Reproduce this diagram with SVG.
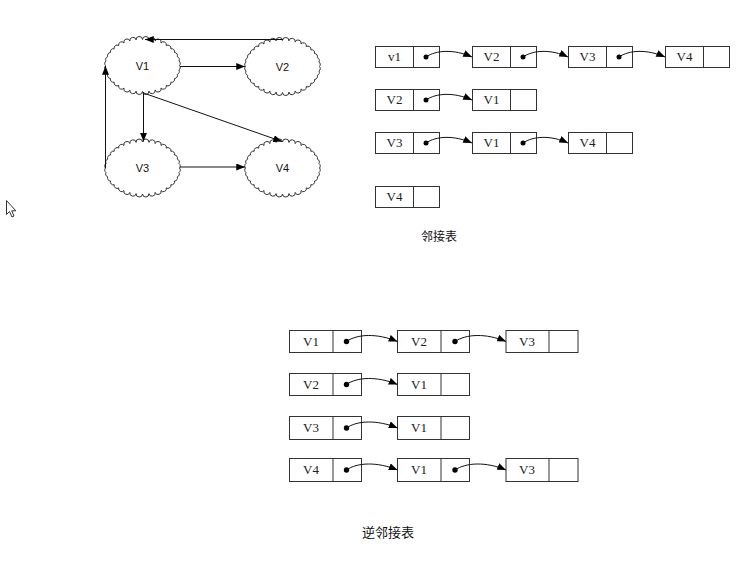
<svg xmlns="http://www.w3.org/2000/svg" xmlns:xlink="http://www.w3.org/1999/xlink" width="756" height="568" viewBox="0 0 756 568">
<style>
.cloud{fill:#fff;stroke:#333;stroke-width:1}
.gl{font-family:"Liberation Sans",Arial,sans-serif;font-size:11px;fill:#111;text-anchor:middle}
.box{fill:#fff;stroke:#333;stroke-width:1}
.lt{font-family:"Liberation Serif","Times New Roman",serif;font-size:13px;fill:#222;text-anchor:middle}
.edge{fill:none;stroke:#111;stroke-width:1}
.dot{fill:#000}
.cap{font-family:"Noto Sans CJK SC","Noto Sans CJK JP",sans-serif;fill:#111;text-anchor:middle}
</style>
<defs>
<marker id="ah" viewBox="0 0 10 8" refX="10" refY="4" markerWidth="9" markerHeight="7" markerUnits="userSpaceOnUse" orient="auto">
<path d="M0,0 L10,4 L0,8 z" fill="#000"/>
</marker>
<path id="cl" class="cloud" d="M37,0 A3 3 0 0 1 36.44,4.51 A3 3 0 0 1 34.77,8.89 A3 3 0 0 1 32.04,13 A3 3 0 0 1 28.34,16.71 A3 3 0 0 1 23.78,19.92 A3 3 0 0 1 18.5,22.52 A3 3 0 0 1 12.65,24.43 A3 3 0 0 1 6.42,25.6 A3 3 0 0 1 0,26 A3 3 0 0 1 -6.42,25.6 A3 3 0 0 1 -12.65,24.43 A3 3 0 0 1 -18.5,22.52 A3 3 0 0 1 -23.78,19.92 A3 3 0 0 1 -28.34,16.71 A3 3 0 0 1 -32.04,13 A3 3 0 0 1 -34.77,8.89 A3 3 0 0 1 -36.44,4.51 A3 3 0 0 1 -37,0 A3 3 0 0 1 -36.44,-4.51 A3 3 0 0 1 -34.77,-8.89 A3 3 0 0 1 -32.04,-13 A3 3 0 0 1 -28.34,-16.71 A3 3 0 0 1 -23.78,-19.92 A3 3 0 0 1 -18.5,-22.52 A3 3 0 0 1 -12.65,-24.43 A3 3 0 0 1 -6.42,-25.6 A3 3 0 0 1 0,-26 A3 3 0 0 1 6.42,-25.6 A3 3 0 0 1 12.65,-24.43 A3 3 0 0 1 18.5,-22.52 A3 3 0 0 1 23.78,-19.92 A3 3 0 0 1 28.34,-16.71 A3 3 0 0 1 32.04,-13 A3 3 0 0 1 34.77,-8.89 A3 3 0 0 1 36.44,-4.51 A3 3 0 0 1 37,0 Z"/>
</defs>
<rect width="756" height="568" fill="#fff"/>

<!-- graph nodes -->
<g id="g-v1"><use xlink:href="#cl" x="142.5" y="65.5"/><text class="gl" x="142.5" y="70">V1</text></g>
<g id="g-v2"><use xlink:href="#cl" x="282.5" y="66.5"/><text class="gl" x="282.5" y="71">V2</text></g>
<g id="g-v3"><use xlink:href="#cl" x="142.5" y="168"/><text class="gl" x="142.5" y="172">V3</text></g>
<g id="g-v4"><use xlink:href="#cl" x="282.5" y="168"/><text class="gl" x="282.5" y="172">V4</text></g>

<!-- graph connectors -->
<g id="graph-edges" class="edge" marker-end="url(#ah)">
<path d="M283,39.5 L145,39.5"/>
<path d="M180,66.5 L245,66.5"/>
<path d="M143.5,92 L143.5,141.5"/>
<path d="M143.5,93 L282,141.5"/>
<path d="M105.5,168 L105.5,66"/>
<path d="M180,167 L245,167"/>
</g>

<!-- adjacency list -->
<g id="a-r1-v1"><rect class="box" x="375.5" y="46.5" width="64" height="21"/><line class="box" x1="413.5" y1="46.5" x2="413.5" y2="67.5"/><text class="lt" x="394.5" y="61">v1</text><circle class="dot" cx="426" cy="57" r="2.5"/></g>
<g id="a-r1-v2"><rect class="box" x="472.5" y="46.5" width="64" height="21"/><line class="box" x1="510.5" y1="46.5" x2="510.5" y2="67.5"/><text class="lt" x="491.5" y="61">V2</text><circle class="dot" cx="523" cy="57" r="2.5"/></g>
<g id="a-r1-v3"><rect class="box" x="568.5" y="46.5" width="64" height="21"/><line class="box" x1="606.5" y1="46.5" x2="606.5" y2="67.5"/><text class="lt" x="587.5" y="61">V3</text><circle class="dot" cx="619" cy="57" r="2.5"/></g>
<g id="a-r1-v4"><rect class="box" x="665.5" y="46.5" width="64" height="21"/><line class="box" x1="703.5" y1="46.5" x2="703.5" y2="67.5"/><text class="lt" x="684.5" y="61">V4</text></g>

<g id="a-r2-v2"><rect class="box" x="375.5" y="89.5" width="64" height="21"/><line class="box" x1="413.5" y1="89.5" x2="413.5" y2="110.5"/><text class="lt" x="394.5" y="104">V2</text><circle class="dot" cx="426" cy="100" r="2.5"/></g>
<g id="a-r2-v1"><rect class="box" x="472.5" y="89.5" width="64" height="21"/><line class="box" x1="510.5" y1="89.5" x2="510.5" y2="110.5"/><text class="lt" x="491.5" y="104">V1</text></g>

<g id="a-r3-v3"><rect class="box" x="375.5" y="132.5" width="64" height="21"/><line class="box" x1="413.5" y1="132.5" x2="413.5" y2="153.5"/><text class="lt" x="394.5" y="147">V3</text><circle class="dot" cx="426" cy="143" r="2.5"/></g>
<g id="a-r3-v1"><rect class="box" x="472.5" y="132.5" width="64" height="21"/><line class="box" x1="510.5" y1="132.5" x2="510.5" y2="153.5"/><text class="lt" x="491.5" y="147">V1</text><circle class="dot" cx="523" cy="143" r="2.5"/></g>
<g id="a-r3-v4"><rect class="box" x="568.5" y="132.5" width="64" height="21"/><line class="box" x1="606.5" y1="132.5" x2="606.5" y2="153.5"/><text class="lt" x="587.5" y="147">V4</text></g>

<g id="a-r4-v4"><rect class="box" x="375.5" y="186.5" width="64" height="21"/><line class="box" x1="413.5" y1="186.5" x2="413.5" y2="207.5"/><text class="lt" x="394.5" y="201">V4</text></g>

<text id="cap-adj" class="cap" x="439" y="241" font-size="12">邻接表</text>

<!-- inverse adjacency list -->
<g id="i-r1-v1"><rect class="box" x="289.5" y="330.5" width="72" height="22"/><line class="box" x1="333" y1="330.5" x2="333" y2="352.5"/><text class="lt" x="311" y="346">V1</text><circle class="dot" cx="346.5" cy="341.5" r="2.7"/></g>
<g id="i-r1-v2"><rect class="box" x="397.5" y="330.5" width="72" height="22"/><line class="box" x1="441" y1="330.5" x2="441" y2="352.5"/><text class="lt" x="419" y="346">V2</text><circle class="dot" cx="455" cy="341.5" r="2.7"/></g>
<g id="i-r1-v3"><rect class="box" x="506" y="330.5" width="72" height="22"/><line class="box" x1="549" y1="330.5" x2="549" y2="352.5"/><text class="lt" x="527" y="346">V3</text></g>

<g id="i-r2-v2"><rect class="box" x="289.5" y="373.5" width="72" height="22"/><line class="box" x1="333" y1="373.5" x2="333" y2="395.5"/><text class="lt" x="311" y="389">V2</text><circle class="dot" cx="346.5" cy="384.5" r="2.7"/></g>
<g id="i-r2-v1"><rect class="box" x="397.5" y="373.5" width="72" height="22"/><line class="box" x1="441" y1="373.5" x2="441" y2="395.5"/><text class="lt" x="419" y="389">V1</text></g>

<g id="i-r3-v3"><rect class="box" x="289.5" y="416.5" width="72" height="23"/><line class="box" x1="333" y1="416.5" x2="333" y2="439.5"/><text class="lt" x="311" y="432">V3</text><circle class="dot" cx="346.5" cy="428" r="2.7"/></g>
<g id="i-r3-v1"><rect class="box" x="397.5" y="416.5" width="72" height="23"/><line class="box" x1="441" y1="416.5" x2="441" y2="439.5"/><text class="lt" x="419" y="432">V1</text></g>

<g id="i-r4-v4"><rect class="box" x="289.5" y="458.5" width="72" height="23"/><line class="box" x1="333" y1="458.5" x2="333" y2="481.5"/><text class="lt" x="311" y="474">V4</text><circle class="dot" cx="346.5" cy="470" r="2.7"/></g>
<g id="i-r4-v1"><rect class="box" x="397.5" y="458.5" width="72" height="23"/><line class="box" x1="441" y1="458.5" x2="441" y2="481.5"/><text class="lt" x="419" y="474">V1</text><circle class="dot" cx="455" cy="470" r="2.7"/></g>
<g id="i-r4-v3"><rect class="box" x="506" y="458.5" width="72" height="23"/><line class="box" x1="549" y1="458.5" x2="549" y2="481.5"/><text class="lt" x="527" y="474">V3</text></g>

<text id="cap-inv" class="cap" x="388" y="537" font-size="13">逆邻接表</text>

<!-- list connectors -->
<g id="list-edges" class="edge" marker-end="url(#ah)">
<path d="M426,57 C436,50 454,49 472,57"/>
<path d="M523,57 C533,50 551,49 568,57"/>
<path d="M619,57 C629,50 647,49 665,57"/>
<path d="M426,100 C436,93 454,92 472,100"/>
<path d="M426,143 C436,136 454,135 472,143"/>
<path d="M523,143 C533,136 551,135 568,143"/>
<path d="M346.5,341.5 C357,334 377,333 397.5,341.5"/>
<path d="M455,341.5 C466,334 486,333 506,341.5"/>
<path d="M346.5,384.5 C357,377 377,376 397.5,384.5"/>
<path d="M346.5,428 C357,420.5 377,419.5 397.5,428"/>
<path d="M346.5,470 C357,462.5 377,461.5 397.5,470"/>
<path d="M455,470 C466,462.5 486,461.5 506,470"/>
</g>

<!-- mouse pointer -->
<path d="M6.5,200.5 L6.5,214.5 L9.5,211.5 L12,217 L14,216 L11.7,210.8 L15.8,210.8 Z" fill="#fff" stroke="#333" stroke-width="1"/>
</svg>
